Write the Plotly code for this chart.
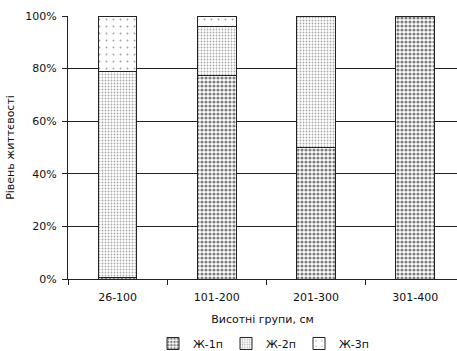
import plotly.graph_objects as go

# Height groups and survival share of each vitality class (%)
groups = ["26-100", "101-200", "201-300", "301-400"]
zh1 = [0.5, 77.5, 50, 100]
zh2 = [78.5, 18.5, 50, 0]
zh3 = [21, 4, 0, 0]
series_names = ["Ж-1п", "Ж-2п", "Ж-3п"]

font = dict(family="DejaVu Sans, Verdana, sans-serif", size=11, color="#111")

patterns = [
    dict(shape=".", fgcolor="#000", bgcolor="#fff", size=4, solidity=0.5),
    dict(shape=".", fgcolor="#555", bgcolor="#fff", size=3, solidity=0.3),
    dict(shape=".", fgcolor="#444", bgcolor="#fff", size=7, solidity=0.06),
]

fig = go.Figure()
for name, vals, pat in zip(series_names, [zh1, zh2, zh3], patterns):
    fig.add_trace(go.Bar(
        x=groups, y=vals, name=name, width=0.39,
        marker=dict(color="#fff", pattern=pat, line=dict(color="#222", width=1)),
    ))

fig.update_layout(
    barmode="stack",
    width=457, height=351,
    margin=dict(l=68, r=0, t=16, b=72, autoexpand=False),
    paper_bgcolor="#fff", plot_bgcolor="#fff",
    font=font,
    showlegend=True,
    legend=dict(orientation="h", x=0.5, xanchor="center", y=-0.19, yanchor="top",
                font=dict(size=11), traceorder="normal", itemwidth=30,
                entrywidth=28, entrywidthmode="pixels"),
    xaxis=dict(
        range=[-0.5, 3.42], showline=True, linecolor="#222", linewidth=1,
        ticks="outside", ticklen=5, tickcolor="#222", tickson="boundaries",
        ticklabelstandoff=8, showgrid=False,
        title=dict(text="Висотні групи, см", standoff=12, font=dict(size=11)),
    ),
    yaxis=dict(
        range=[0, 100], dtick=20, ticksuffix="%", showline=True,
        linecolor="#222", linewidth=1, ticks="outside", ticklen=5,
        tickcolor="#222", gridcolor="#222", gridwidth=1, zeroline=False,
        ticklabelstandoff=3,
        title=dict(text="Рівень життєвості", standoff=8, font=dict(size=11)),
    ),
)

fig.write_html("out.html")
